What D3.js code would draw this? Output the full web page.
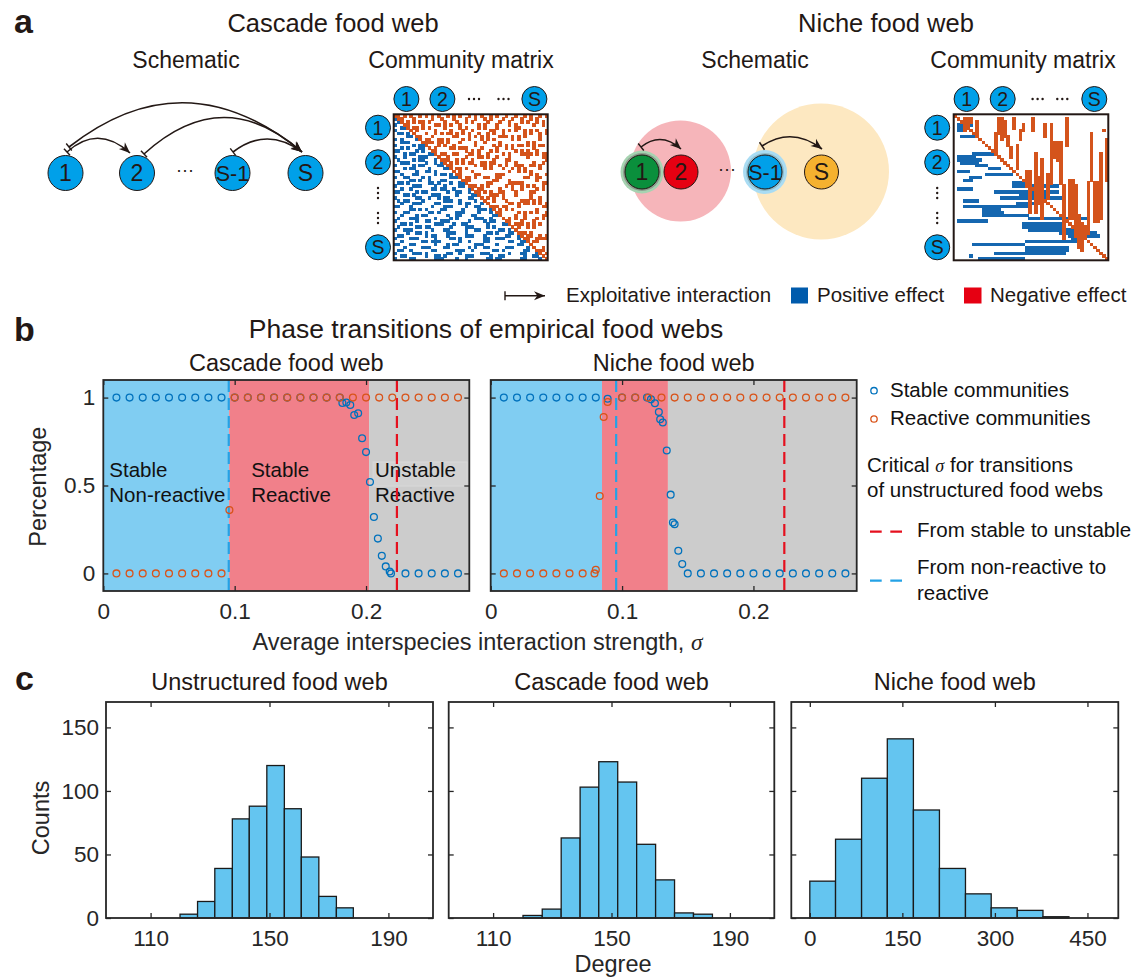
<!DOCTYPE html>
<html>
<head>
<meta charset="utf-8">
<script src="https://cdn.jsdelivr.net/npm/d3@7"></script>
<style>
  body { margin: 0; background: #fff; }
  text { font-family: "Liberation Sans", Arial, Helvetica, sans-serif; }
</style>
</head>
<body>
<svg id="fig"></svg>
<script>
// ---------- data ----------
// panel b: share of stable / reactive communities vs sigma
const cascadeStable = [
  [0.01,1],[0.02,1],[0.03,1],[0.04,1],[0.05,1],[0.06,1],[0.07,1],[0.08,1],[0.09,1],
  [0.10,1],[0.11,1],[0.12,1],[0.13,1],[0.14,1],[0.15,1],[0.16,1],[0.17,1],[0.18,1],
  [0.182,0.969],[0.185,0.972],[0.188,0.958],[0.191,0.901],[0.194,0.911],[0.197,0.769],
  [0.200,0.690],[0.203,0.520],[0.206,0.321],[0.209,0.198],[0.212,0.100],[0.215,0.040],
  [0.218,0.011],[0.219,0],[0.23,0],[0.24,0],[0.25,0],[0.26,0],[0.27,0]
];
const cascadeReactive = [
  [0.01,0],[0.02,0],[0.03,0],[0.04,0],[0.05,0],[0.06,0],[0.07,0],[0.08,0],[0.09,0],
  [0.096,0.36],
  [0.10,1],[0.11,1],[0.12,1],[0.13,1],[0.14,1],[0.15,1],[0.16,1],[0.17,1],[0.18,1],
  [0.19,1],[0.20,1],[0.21,1],[0.22,1],[0.23,1],[0.24,1],[0.25,1],[0.26,1],[0.27,1]
];
const nicheStable = [
  [0.01,1],[0.02,1],[0.03,1],[0.04,1],[0.05,1],[0.06,1],[0.07,1],[0.08,1],[0.089,0.993],
  [0.10,1],[0.11,1],[0.119,1],[0.122,0.990],[0.125,0.968],[0.128,0.918],[0.129,0.877],
  [0.131,0.858],[0.134,0.699],[0.137,0.448],[0.1387,0.289],[0.140,0.280],[0.1428,0.129],
  [0.1458,0.053],
  [0.15,0],[0.16,0],[0.17,0],[0.18,0],[0.19,0],[0.20,0],[0.21,0],[0.22,0],[0.23,0],
  [0.24,0],[0.25,0],[0.26,0],[0.27,0]
];
const nicheReactive = [
  [0.01,0],[0.02,0],[0.03,0],[0.04,0],[0.05,0],[0.06,0],[0.07,0],[0.079,0],[0.080,0.021],
  [0.083,0.44],[0.086,0.89],[0.089,0.975],
  [0.10,1],[0.11,1],[0.12,1],[0.13,1],[0.14,1],[0.15,1],[0.16,1],[0.17,1],[0.18,1],
  [0.19,1],[0.20,1],[0.21,1],[0.22,1],[0.23,1],[0.24,1],[0.25,1],[0.26,1],[0.27,1]
];
// phase boundaries (sigma) of the empirical webs
const cascadeBounds = [0, 0.0958, 0.2023, 0.2786];
const nicheBounds = [0, 0.0847, 0.1349, 0.2786];
// critical sigma of unstructured webs
const sigmaUnstable = 0.2235;
const sigmaReactive = 0.0955;
const sigmaTicks = [0, 0.1, 0.2];
const percentTicks = [0, 0.5, 1];
const phaseLabels = [["Stable", "Non-reactive"], ["Stable", "Reactive"], ["Unstable", "Reactive"]];

// panel c: degree histograms (bin edges, counts)
const unstructEdges = [119.9,125.8,131.6,137.5,143.2,149.1,155.0,160.7,166.6,172.5,178.2];
const unstructCounts = [3,13,39,78,88,120,86,48,17,8];
const cascadeEdges = [120.1,126.6,133.0,139.4,145.7,152.1,158.5,164.9,171.3,177.7,184.1];
const cascadeCounts = [2,7,63,103,123,107,58,30,4,3];
const nicheEdges = [0,41.7,83.9,125.6,167.9,210.1,252.3,294,336.2,377.9,420];
const nicheCounts = [29,62,110,141,85,39,19,8,6,1];
const degreeTicks1 = [110, 150, 190];
const degreeTicks3 = [0, 150, 300, 450];
const countTicks = [0, 50, 100, 150];

// panel a: community matrices, S = 50
const S = 50;
// cascade web: row r lists links to prey 0..r-1 (1 = link)
const cascadeLinks = [
  "1","01","100","0011","10000","011010","0000110","10100001","001110000","1000001011",
  "00101000110","110000010100","0001011000011","10010000111000","010000101100010",
  "0011100000100101","10000010110000110","000101100001000011","1100000100110100000",
  "00100011000001011010","100110000101000000111","0000011010010001100000",
  "01101000000110100010011","100000111000010010000110","0010010000001101100100001",
  "11000001011000000100110010","000110100000111000001000011","1000000110010010110000001100",
  "01011000010000001110010000100","001000111000011000000101100010",
  "1100010000001000111000010011000","00000110101000011000001000011101",
  "100110000001101000001110000100010","0010000101100000010011000110000011",
  "01000111000001000010100000111001000","100000010011000111000000100001011000",
  "0011010000000111000100110000001000011","01000001101100000010000111000010100000",
  "100111000000100011000001001100000011010","0000100110100000011100010000001101000110",
  "01100000001011000100000111000100000011001","100001110000010000110100000001100111000010",
  "0010000001101110000001001000011000000110011","11000110000001000101100000111000010000001100",
  "000100000111000011000000101001100000111000010","0110010000001100000011100100000011010000001100",
  "10000011101000000110010000001110000001000110001","001100000010011010000001110000010011000000100110",
  "1000011000000111000010010000001101100000011000010"
];
// niche web: [predator row, first prey, last prey]
const nicheDiets = [
  [3,1,5],[4,1,3],[5,1,2],[7,2,7],[13,6,12],[14,1,6],[15,1,8],[16,2,7],[17,7,10],
  [18,11,14],[19,1,4],[20,10,18],[21,5,8],[22,3,5],[23,19,24],[24,19,33],[25,1,5],
  [26,13,33],[27,21,30],[28,15,35],[29,3,7],[30,20,28],[31,3,23],[32,9,14],[33,9,15],
  [34,9,23],[35,24,42],[36,1,10],[37,22,35],[38,22,35],[39,24,41],[40,34,45],[41,37,46],
  [42,38,41],[43,23,40],[44,6,22],[45,23,36],[46,23,36],[47,13,35],[48,5,5],[49,8,22]
];

// ---------- setup ----------
const W = 1137, H = 979;
const ink = "#231815", axisInk = "#262626";
const nodeBlue = "#00a0e9", matBlue = "#1567b0", matOrange = "#d4541c";
const stableCol = "#0072bd", reactCol = "#d95319";
const phaseColors = ["#80cdf2", "#f1808a", "#cccccc"];
const histFill = "#64c5f0";

const svg = d3.select("#fig").attr("width", W).attr("height", H);
svg.append("rect").attr("width", W).attr("height", H).attr("fill", "#fff");

function txt(g, x, y, s, size, o = {}) {
  return g.append("text").attr("x", x).attr("y", y)
    .attr("font-size", size).attr("fill", o.fill || ink)
    .attr("text-anchor", o.anchor || "start")
    .attr("font-weight", o.weight || null)
    .text(s);
}

// ---------- panel a ----------
const ga = svg.append("g");
txt(ga, 14, 33, "a", 34, { weight: "bold" });
txt(ga, 333, 32, "Cascade food web", 25.5, { anchor: "middle" });
txt(ga, 886, 32, "Niche food web", 25.5, { anchor: "middle" });
txt(ga, 186, 68, "Schematic", 23, { anchor: "middle" });
txt(ga, 461, 68, "Community matrix", 23, { anchor: "middle" });
txt(ga, 755, 68, "Schematic", 23, { anchor: "middle" });
txt(ga, 1023, 68, "Community matrix", 23, { anchor: "middle" });

function node(g, cx, cy, r, fill, label, size) {
  g.append("circle").attr("cx", cx).attr("cy", cy).attr("r", r)
    .attr("fill", fill).attr("stroke", ink).attr("stroke-width", 1);
  txt(g, cx, cy, label, size, { anchor: "middle" }).attr("dy", "0.36em");
}

// curved exploitative link: bar at prey end, arrow head at predator end
function link(g, p0, c, p1) {
  const p = d3.path();
  p.moveTo(p0[0], p0[1]);
  p.quadraticCurveTo(c[0], c[1], p1[0], p1[1]);
  g.append("path").attr("d", p.toString()).attr("fill", "none")
    .attr("stroke", ink).attr("stroke-width", 1.6);
  // tail bar
  let dx = c[0] - p0[0], dy = c[1] - p0[1], L = Math.hypot(dx, dy);
  let nx = -dy / L, ny = dx / L;
  g.append("line").attr("x1", p0[0] - nx * 4.5).attr("y1", p0[1] - ny * 4.5)
    .attr("x2", p0[0] + nx * 4.5).attr("y2", p0[1] + ny * 4.5)
    .attr("stroke", ink).attr("stroke-width", 1.4);
  // head
  dx = p1[0] - c[0]; dy = p1[1] - c[1]; L = Math.hypot(dx, dy);
  const ux = dx / L, uy = dy / L, len = 11, hw = 4.5;
  const bx = p1[0] - ux * len, by = p1[1] - uy * len;
  g.append("path").attr("d",
    `M${p1[0]},${p1[1]}L${bx - uy * hw},${by + ux * hw}L${p1[0] - ux * len * 0.7},${p1[1] - uy * len * 0.7}L${bx + uy * hw},${by - ux * hw}Z`)
    .attr("fill", ink);
}

// cascade schematic
link(ga, [69, 147], [185, 56], [302, 152]);
link(ga, [144, 154], [223, 82], [302, 152]);
link(ga, [67, 152], [98, 124], [130, 153]);
link(ga, [233, 152], [267, 126], [302, 152]);
node(ga, 65.5, 173, 17.5, nodeBlue, "1", 23);
node(ga, 137, 173, 17.5, nodeBlue, "2", 23);
node(ga, 232.5, 173, 17.5, nodeBlue, "S-1", 21.5);
node(ga, 305.5, 173, 17.5, nodeBlue, "S", 23);
txt(ga, 185, 176, "···", 18, { anchor: "middle" });

// niche schematic
ga.append("circle").attr("cx", 680.5).attr("cy", 171).attr("r", 50.5).attr("fill", "#f6b5ba");
ga.append("circle").attr("cx", 821).attr("cy", 171.5).attr("r", 68).attr("fill", "#fde8c1");
ga.append("circle").attr("cx", 642).attr("cy", 172).attr("r", 21.5).attr("fill", "#a6d3b1");
ga.append("circle").attr("cx", 642).attr("cy", 172).attr("r", 19).attr("fill", "#8d9d8e");
ga.append("circle").attr("cx", 765).attr("cy", 172).attr("r", 22).attr("fill", "#a9dcf3");
ga.append("circle").attr("cx", 765).attr("cy", 172).attr("r", 19).attr("fill", "#8ebccb");
node(ga, 642, 172, 17, "#0a8f3c", "1", 23);
node(ga, 681, 172, 17, "#e60012", "2", 23);
node(ga, 765, 172, 17, nodeBlue, "S-1", 21.5);
node(ga, 821.5, 172, 17, "#f5b12f", "S", 23);
txt(ga, 727, 175, "···", 18, { anchor: "middle" });
link(ga, [641, 147], [661, 131], [681, 149]);
link(ga, [762, 146], [792, 126], [822, 149]);

// community matrices
function matrix(g, x0, y0, w, h, cells) {
  const xs = d3.scaleBand().domain(d3.range(S)).range([x0, x0 + w]);
  const ys = d3.scaleBand().domain(d3.range(S)).range([y0, y0 + h]);
  g.append("g").attr("shape-rendering", "crispEdges")
    .selectAll("rect").data(cells).join("rect")
    .attr("x", d => xs(d.c)).attr("y", d => ys(d.r))
    .attr("width", xs.bandwidth() + 0.6).attr("height", ys.bandwidth() + 0.6)
    .attr("fill", d => d.pos ? matBlue : matOrange);
  g.append("rect").attr("x", x0).attr("y", y0).attr("width", w).attr("height", h)
    .attr("fill", "none").attr("stroke", ink).attr("stroke-width", 2);
}

function headers(g, colX, dotX, rowX) {
  const r = 12.5;
  node(g, colX[0], 99, r, nodeBlue, "1", 19.5);
  node(g, colX[1], 99, r, nodeBlue, "2", 19.5);
  node(g, colX[2], 99, r, nodeBlue, "S", 19.5);
  dotX.forEach(x => [-5, 0, 5].forEach(d =>
    g.append("circle").attr("cx", x + d).attr("cy", 99).attr("r", 1.2).attr("fill", ink)));
  node(g, rowX, 127.7, r, nodeBlue, "1", 19.5);
  node(g, rowX, 162.3, r, nodeBlue, "2", 19.5);
  node(g, rowX, 247.3, r, nodeBlue, "S", 19.5);
  [193, 218].forEach(y => [-5, 0, 5].forEach(d =>
    g.append("circle").attr("cx", rowX).attr("cy", y + d).attr("r", 1.2).attr("fill", ink)));
}

const cascadeCells = [];
cascadeLinks.forEach((row, i) => {
  const r = i + 1;
  for (let c = 0; c < r && c < row.length; c++) {
    if (row[c] === "1") { cascadeCells.push({ r, c, pos: true }); cascadeCells.push({ r: c, c: r, pos: false }); }
  }
});
d3.range(S).forEach(i => cascadeCells.push({ r: i, c: i, pos: false }));

const nicheBlue = [], nicheOrange = [];
nicheDiets.forEach(([r, c0, c1]) => {
  for (let c = c0; c <= c1; c++) { nicheBlue.push({ r, c, pos: true }); nicheOrange.push({ r: c, c: r, pos: false }); }
});
d3.range(S).forEach(i => nicheOrange.push({ r: i, c: i, pos: false }));

matrix(ga, 393.7, 114.3, 154, 146, cascadeCells);
headers(ga, [406.4, 442.4, 534.4], [474, 503.5], 378);
matrix(ga, 953.7, 114.3, 154.6, 146, nicheBlue.concat(nicheOrange));
headers(ga, [966.6, 1002.7, 1094.3], [1037.6, 1062.3], 937.2);

// legend row
link(ga, [505, 295.7], [525, 295.7], [545, 295.7]);
txt(ga, 566, 302, "Exploitative interaction", 20.5);
ga.append("rect").attr("x", 791).attr("y", 287.5).attr("width", 17).attr("height", 16).attr("fill", "#005bac");
txt(ga, 817, 302, "Positive effect", 20.5);
ga.append("rect").attr("x", 964).attr("y", 287.5).attr("width", 17.5).attr("height", 16).attr("fill", "#e60012");
txt(ga, 990, 302, "Negative effect", 20.5);

// ---------- panel b ----------
const gb = svg.append("g");
txt(gb, 14, 341, "b", 34, { weight: "bold" });
txt(gb, 486, 338, "Phase transitions of empirical food webs", 26.5, { anchor: "middle" });
const bTop = 380, bBottom = 591;

function styleAxis(sel, size) {
  sel.select(".domain").remove();
  sel.selectAll(".tick line").attr("stroke", axisInk).attr("stroke-width", 1.3);
  sel.selectAll(".tick text").attr("fill", axisInk).attr("font-size", size)
    .attr("font-family", '"Liberation Sans", Arial, Helvetica, sans-serif');
  sel.attr("font-family", null).attr("font-size", null);
}

function phasePlot(left, right, title, bounds, stable, reactive, showLabels) {
  const g = gb.append("g");
  const x = d3.scaleLinear().domain([0, 0.2786]).range([left, right]);
  const y = d3.scaleLinear().domain([-0.1, 1.1]).range([bBottom, bTop]);
  txt(g, (left + right) / 2, 371, title, 23.5, { anchor: "middle" });

  g.selectAll("rect.phase").data(d3.pairs(bounds)).join("rect").attr("class", "phase")
    .attr("x", d => x(d[0])).attr("width", d => x(d[1]) - x(d[0]))
    .attr("y", bTop).attr("height", bBottom - bTop)
    .attr("fill", (d, i) => phaseColors[i]);

  if (showLabels) {
    const mids = d3.pairs(bounds);
    g.append("rect").attr("x", x(mids[2][0]) + 4).attr("y", 462).attr("width", 94).attr("height", 24)
      .attr("fill", "#d2d2d2").attr("stroke", "#d9d9d9");
    mids.forEach((d, i) => {
      const lx = x(d[0]) + (i === 1 ? 22 : 6);
      txt(g, lx, 477, phaseLabels[i][0], 20.5, { fill: "#111" });
      txt(g, lx, 502, phaseLabels[i][1], 20.5, { fill: "#111" });
    });
  }

  [[sigmaReactive, "#24a2e6"], [sigmaUnstable, "#e5101e"]].forEach(([s, col]) => {
    g.append("line").attr("x1", x(s)).attr("x2", x(s)).attr("y1", bTop).attr("y2", bBottom)
      .attr("stroke", col).attr("stroke-width", 2.2).attr("stroke-dasharray", "12 6");
  });

  [[stable, stableCol], [reactive, reactCol]].forEach(([pts, col]) => {
    g.append("g").selectAll("circle").data(pts).join("circle")
      .attr("cx", d => x(d[0])).attr("cy", d => y(d[1])).attr("r", 3.4)
      .attr("fill", "none").attr("stroke", col).attr("stroke-width", 1.3);
  });

  const fmt = d3.format("~g");
  g.append("g").attr("transform", `translate(0,${bBottom})`)
    .call(d3.axisBottom(x).tickValues(sigmaTicks).tickSizeInner(-5).tickSizeOuter(0).tickPadding(12).tickFormat(fmt))
    .call(s => styleAxis(s, 22.5));
  g.append("g").attr("transform", `translate(0,${bTop})`)
    .call(d3.axisTop(x).tickValues(sigmaTicks).tickSizeInner(-5).tickSizeOuter(0).tickFormat(() => ""))
    .call(s => styleAxis(s, 22.5));
  g.append("g").attr("transform", `translate(${left},0)`)
    .call(d3.axisLeft(y).tickValues(percentTicks).tickSizeInner(-5).tickSizeOuter(0).tickPadding(8)
      .tickFormat(showLabels ? fmt : () => ""))
    .call(s => styleAxis(s, 22.5));
  g.append("g").attr("transform", `translate(${right},0)`)
    .call(d3.axisRight(y).tickValues(percentTicks).tickSizeInner(-5).tickSizeOuter(0).tickFormat(() => ""))
    .call(s => styleAxis(s, 22.5));
  g.append("rect").attr("x", left).attr("y", bTop).attr("width", right - left).attr("height", bBottom - bTop)
    .attr("fill", "none").attr("stroke", axisInk).attr("stroke-width", 1.8);
}

phasePlot(103.3, 469.3, "Cascade food web", cascadeBounds, cascadeStable, cascadeReactive, true);
phasePlot(490.7, 856.7, "Niche food web", nicheBounds, nicheStable, nicheReactive, false);

txt(gb, 0, 0, "Percentage", 23.5, { anchor: "middle", fill: axisInk })
  .attr("transform", "translate(46,486.7) rotate(-90)");
const xl = txt(gb, 477.5, 650, "Average interspecies interaction strength, ", 23.5, { anchor: "middle", fill: axisInk });
xl.append("tspan").attr("font-family", '"Liberation Serif", "Times New Roman", serif')
  .attr("font-style", "italic").text("σ");

// legend b
const lg = gb.append("g");
lg.append("circle").attr("cx", 874).attr("cy", 390.7).attr("r", 3.2).attr("fill", "none").attr("stroke", stableCol).attr("stroke-width", 1.3);
txt(lg, 890, 397, "Stable communities", 20.5, { fill: "#111" });
lg.append("circle").attr("cx", 874).attr("cy", 419).attr("r", 3.2).attr("fill", "none").attr("stroke", reactCol).attr("stroke-width", 1.3);
txt(lg, 890, 425, "Reactive communities", 20.5, { fill: "#111" });
const crit = txt(lg, 867, 472, "Critical ", 20.5, { fill: "#111" });
crit.append("tspan").attr("font-family", '"Liberation Serif", "Times New Roman", serif')
  .attr("font-style", "italic").attr("font-size", 18).text("σ");
crit.append("tspan").text(" for transitions");
txt(lg, 867, 497, "of unstructured food webs", 20.5, { fill: "#111" });
lg.append("line").attr("x1", 870).attr("x2", 902).attr("y1", 531.7).attr("y2", 531.7)
  .attr("stroke", "#e5101e").attr("stroke-width", 2.2).attr("stroke-dasharray", "11.7 8.6");
txt(lg, 917, 537, "From stable to unstable", 20.5, { fill: "#111" });
lg.append("line").attr("x1", 870).attr("x2", 902).attr("y1", 580.7).attr("y2", 580.7)
  .attr("stroke", "#24a2e6").attr("stroke-width", 2.2).attr("stroke-dasharray", "11.7 8.6");
txt(lg, 917, 574, "From non-reactive to", 20.5, { fill: "#111" });
txt(lg, 917, 600, "reactive", 20.5, { fill: "#111" });

// ---------- panel c ----------
const gc = svg.append("g");
txt(gc, 15, 690, "c", 34, { weight: "bold" });
const cTop = 702, cBottom = 918;

function histogram(left, right, title, domain, edges, counts, ticks, showY) {
  const g = gc.append("g");
  const x = d3.scaleLinear().domain(domain).range([left, right]);
  const y = d3.scaleLinear().domain([0, 170]).range([cBottom, cTop]);
  txt(g, (left + right) / 2, 690, title, 23.5, { anchor: "middle" });
  g.selectAll("rect.bar").data(counts).join("rect").attr("class", "bar")
    .attr("x", (d, i) => x(edges[i])).attr("width", (d, i) => x(edges[i + 1]) - x(edges[i]))
    .attr("y", d => y(d)).attr("height", d => y(0) - y(d))
    .attr("fill", histFill).attr("stroke", "#1a1a1a").attr("stroke-width", 1.3);
  g.append("g").attr("transform", `translate(0,${cBottom})`)
    .call(d3.axisBottom(x).tickValues(ticks).tickSizeInner(-5).tickSizeOuter(0).tickPadding(12.5))
    .call(s => styleAxis(s, 22.5));
  g.append("g").attr("transform", `translate(0,${cTop})`)
    .call(d3.axisTop(x).tickValues(ticks).tickSizeInner(-5).tickSizeOuter(0).tickFormat(() => ""))
    .call(s => styleAxis(s, 22.5));
  g.append("g").attr("transform", `translate(${left},0)`)
    .call(d3.axisLeft(y).tickValues(countTicks).tickSizeInner(-5).tickSizeOuter(0).tickPadding(7)
      .tickFormat(showY ? d3.format("d") : () => ""))
    .call(s => styleAxis(s, 22.5));
  g.append("g").attr("transform", `translate(${right},0)`)
    .call(d3.axisRight(y).tickValues(countTicks).tickSizeInner(-5).tickSizeOuter(0).tickFormat(() => ""))
    .call(s => styleAxis(s, 22.5));
  g.append("rect").attr("x", left).attr("y", cTop).attr("width", right - left).attr("height", cBottom - cTop)
    .attr("fill", "none").attr("stroke", axisInk).attr("stroke-width", 1.8);
}

histogram(106, 433, "Unstructured food web", [95, 205], unstructEdges, unstructCounts, degreeTicks1, true);
histogram(448.7, 774.3, "Cascade food web", [95, 205], cascadeEdges, cascadeCounts, degreeTicks1, false);
histogram(791.3, 1118.3, "Niche food web", [-30, 500], nicheEdges, nicheCounts, degreeTicks3, false);

txt(gc, 0, 0, "Counts", 23.5, { anchor: "middle", fill: axisInk })
  .attr("transform", "translate(49,818) rotate(-90)");
txt(gc, 613, 972, "Degree", 23.5, { anchor: "middle", fill: axisInk });
</script>
</body>
</html>
